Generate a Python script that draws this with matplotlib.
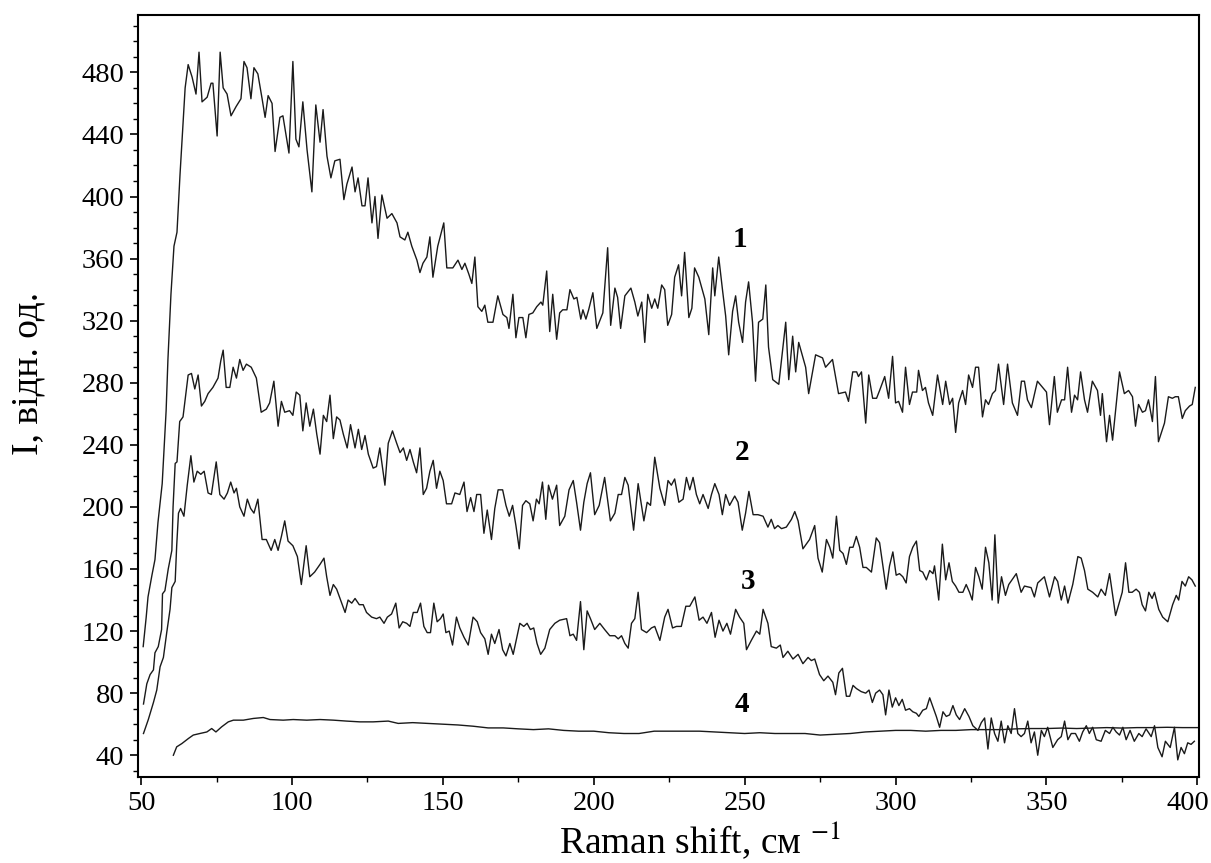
import matplotlib
matplotlib.use("Agg")
import matplotlib.pyplot as plt
from matplotlib.ticker import MultipleLocator
from matplotlib.transforms import ScaledTranslation

plt.rcParams['font.family'] = ['Liberation Serif', 'DejaVu Serif']
plt.rcParams['mathtext.fontset'] = 'stix'

# ---- data, pairs of (Raman shift, intensity) ----
curve1 = [(50.7,110),(51.7,129),(52.3,142),(53.6,156),(54.6,166),(55.6,190),(57.0,215),(58.3,262),(58.9,295),(59.9,337),(60.9,368),(61.9,377),(62.9,414),(63.9,447),(64.6,470),(65.6,485),(66.9,477),(68.2,466),(69.2,493),(70.2,461),(71.9,464),(73.2,473),(73.8,473),(75.2,439),(76.2,493),(77.2,470),(78.5,466),(79.8,452),(81.5,458),(83.1,463),(84.1,487),(85.1,483),(86.4,463),(87.4,483),(88.7,479),(90.1,463),(91.1,451),(92.1,465),(93.4,460),(94.4,429),(96.0,451),(97.0,452),(99.0,428),(100.3,487),(101.3,437),(102.3,432),(103.6,461),(105.0,430),(106.6,403),(107.9,459),(109.3,435),(110.3,456),(111.6,426),(112.9,412),(114.2,423),(115.9,424),(117.2,398),(118.2,408),(119.9,419),(120.9,403),(121.9,412),(123.2,394),(124.2,394),(125.2,412),(126.5,383),(127.5,400),(128.5,373),(129.8,401),(131.5,386),(133.1,389),(134.8,383),(135.8,374),(137.4,372),(138.4,377),(139.7,368),(141.4,359),(142.4,351),(143.4,357),(144.7,361),(145.7,374),(146.7,348),(148.3,368),(150.3,383),(151.3,354),(153.3,354),(155.0,359),(156.3,353),(157.3,357),(158.6,350),(159.6,344),(160.6,361),(161.6,329),(162.9,326),(163.9,330),(164.9,319),(166.6,319),(168.2,336),(169.9,324),(171.2,322),(171.9,315),(173.2,337),(174.2,309),(175.2,322),(176.5,322),(177.5,309),(178.5,324),(179.8,325),(181.1,329),(182.5,332),(183.1,330),(184.4,352),(185.4,313),(186.4,337),(187.7,308),(188.7,325),(189.7,327),(191.1,327),(192.1,340),(193.4,334),(194.4,335),(195.7,321),(196.4,327),(197.4,321),(198.3,327),(199.7,338),(201.0,315),(203.0,325),(204.6,367),(205.6,317),(207.0,341),(207.9,335),(208.9,315),(210.3,336),(212.3,341),(213.6,332),(214.6,323),(215.9,332),(216.9,306),(217.9,337),(219.2,328),(220.2,334),(221.2,328),(222.5,343),(223.5,340),(224.5,317),(225.8,324),(226.8,348),(228.1,356),(229.1,336),(230.1,364),(231.5,322),(232.5,328),(233.4,354),(234.8,348),(235.8,341),(236.8,334),(238.1,311),(239.4,354),(240.1,336),(241.4,361),(242.7,339),(243.7,323),(244.7,298),(246.0,326),(247.0,336),(248.0,319),(249.3,306),(250.3,332),(251.3,345),(252.6,319),(253.6,281),(254.6,319),(256.0,321),(257.0,343),(257.9,303),(259.3,282),(261.3,279),(263.6,319),(264.6,282),(265.9,310),(266.9,287),(267.9,306),(270.2,290),(271.2,273),(273.5,298),(275.8,296),(276.8,290),(279.1,295),(281.1,273),(283.4,274),(284.4,268),(285.8,287),(287.1,287),(287.7,284),(288.7,287),(290.1,254),(291.1,285),(292.4,270),(293.7,270),(294.7,275),(296.4,284),(297.7,270),(299.0,297),(300.0,267),(301.0,268),(302.3,261),(303.3,290),(304.6,266),(305.6,274),(307.0,274),(307.6,288),(308.9,275),(309.9,277),(310.9,267),(312.3,259),(313.9,285),(315.6,266),(316.6,281),(317.9,266),(318.9,270),(319.9,248),(320.9,267),(322.2,275),(323.2,266),(324.2,285),(325.5,277),(326.5,290),(327.5,290),(328.8,258),(329.8,269),(330.8,266),(332.1,273),(333.1,275),(334.1,292),(335.8,266),(337.1,292),(338.7,267),(340.4,259),(341.7,281),(342.7,281),(343.7,269),(345.0,264),(347.0,281),(348.7,277),(350.0,274),(351.0,253),(352.6,284),(353.6,261),(355.0,269),(356.0,269),(357.0,290),(358.3,261),(359.3,272),(360.3,269),(361.3,287),(362.6,269),(363.6,261),(365.2,281),(366.9,275),(367.9,259),(368.5,273),(369.9,242),(370.9,259),(371.9,243),(374.2,287),(375.8,273),(377.2,275),(378.5,271),(379.5,252),(380.5,266),(381.8,261),(382.8,262),(383.8,269),(385.1,255),(386.1,284),(387.1,242),(389.1,254),(390.4,271),(391.7,270),(392.7,271),(393.7,271),(395.0,257),(396.0,262),(397.4,265),(398.3,266),(399.3,277)]

curve2 = [(50.8,73),(51.9,86),(53.0,92),(54.1,95),(54.6,106),(55.7,110),(56.8,121),(57.1,144),(57.9,146),(59.0,160),(60.2,172),(60.6,200),(61.3,228),(61.9,229),(62.8,255),(63.9,258),(65.6,285),(66.7,286),(67.8,276),(68.9,285),(70.0,265),(71.1,268),(72.2,273),(73.8,277),(75.5,283),(76.4,294),(77.2,301),(78.2,277),(79.4,277),(80.5,290),(81.6,283),(82.7,295),(83.8,288),(84.9,292),(86.5,290),(88.2,283),(89.8,261),(91.5,263),(92.6,267),(94.0,281),(95.4,252),(96.5,268),(97.6,261),(99.2,262),(100.3,259),(101.4,274),(102.6,272),(103.6,249),(104.7,267),(105.9,252),(107.1,263),(108.2,247),(109.3,234),(110.4,259),(111.5,255),(112.6,272),(113.7,244),(114.8,258),(115.9,256),(117.0,247),(118.3,238),(119.4,253),(120.9,238),(122.0,250),(123.1,237),(124.2,246),(125.3,234),(126.9,225),(128.0,226),(129.1,238),(130.8,214),(131.9,241),(133.3,249),(134.7,241),(135.8,235),(136.9,238),(138.0,230),(139.1,237),(140.2,229),(141.3,222),(142.4,238),(143.5,208),(144.6,212),(145.7,223),(146.8,230),(147.9,212),(149.0,223),(150.1,217),(151.2,202),(152.9,202),(154.0,209),(155.6,208),(157.0,216),(158.0,197),(159.2,206),(160.3,197),(161.2,208),(162.5,208),(163.6,183),(164.7,198),(166.1,179),(167.2,199),(168.3,211),(169.8,211),(170.9,201),(172.0,194),(173.1,201),(174.2,188),(175.3,173),(176.4,201),(177.5,204),(178.8,202),(179.9,191),(181.0,205),(181.9,202),(183.0,216),(184.1,192),(185.0,214),(186.3,205),(187.7,214),(188.7,188),(190.4,194),(191.8,211),(193.2,217),(194.3,203),(195.6,185),(196.7,203),(197.8,215),(198.9,222),(200.3,195),(201.8,201),(203.6,219),(205.5,191),(207.0,196),(208.1,208),(209.2,208),(210.3,219),(211.4,214),(213.2,185),(214.7,215),(216.6,191),(217.7,203),(218.8,201),(220.2,232),(221.9,212),(223.5,201),(224.6,217),(225.7,214),(226.8,218),(228.2,203),(229.6,205),(230.7,219),(231.8,211),(232.9,219),(234.0,208),(235.1,202),(236.2,208),(237.9,199),(239.0,208),(240.1,215),(241.5,208),(242.6,195),(243.7,208),(245.0,201),(246.7,207),(247.8,203),(249.2,185),(250.3,196),(251.4,210),(252.8,195),(254.4,195),(256.1,194),(257.7,187),(258.8,192),(259.9,186),(261.0,188),(262.2,186),(263.8,187),(265.5,192),(266.6,197),(267.7,191),(269.3,173),(270.4,176),(271.5,179),(273.2,188),(274.3,167),(275.7,158),(277.1,179),(278.2,174),(279.2,167),(280.4,194),(281.5,172),(282.6,170),(283.7,163),(284.8,174),(285.9,174),(287.0,181),(288.1,174),(289.2,161),(290.3,161),(292.0,158),(293.6,180),(294.7,177),(295.8,162),(296.9,147),(298.0,162),(299.1,171),(300.2,156),(301.3,157),(302.4,155),(303.5,151),(304.6,168),(305.7,174),(306.9,178),(308.0,159),(309.0,158),(310.2,153),(311.3,159),(312.4,157),(312.9,162),(314.3,140),(315.5,176),(316.6,153),(317.7,164),(318.8,152),(319.9,149),(321.0,145),(322.3,145),(323.4,150),(324.5,145),(325.4,140),(326.5,161),(327.6,155),(328.7,147),(329.8,174),(330.9,164),(332.0,140),(332.9,182),(334.0,138),(335.1,155),(336.4,143),(337.5,150),(340.0,157),(341.6,145),(342.7,149),(344.9,148),(346.0,142),(347.1,151),(349.3,155),(351.0,142),(352.7,155),(353.7,152),(354.9,140),(356.0,149),(357.1,138),(358.7,150),(360.4,168),(361.5,167),(362.6,159),(363.7,147),(365.3,145),(367.0,142),(368.1,147),(369.5,143),(370.9,157),(372.9,130),(374.2,139),(375.1,145),(376.2,164),(377.3,145),(378.4,145),(379.7,147),(380.8,145),(381.7,137),(382.8,133),(383.9,145),(385.0,141),(385.8,145),(387.2,134),(388.5,129),(390.2,126),(391.8,137),(393.0,143),(393.8,140),(394.9,152),(396.0,149),(397.1,155),(398.2,153),(399.3,149)]

curve3 = [(50.8,54),(52.4,63),(54.1,74),(55.2,82),(56.3,97),(57.4,103),(58.5,119),(59.6,134),(60.2,148),(61.3,152),(61.8,175),(62.4,196),(63.1,199),(64.2,194),(65.3,214),(66.5,233),(67.5,216),(68.6,223),(69.8,221),(70.9,223),(72.2,209),(73.3,208),(74.9,229),(76.1,208),(77.5,205),(78.6,209),(79.7,216),(80.8,209),(81.6,212),(82.7,200),(84.1,194),(85.2,205),(86.3,199),(87.4,196),(88.7,205),(90.1,179),(91.5,179),(93.1,172),(94.3,179),(95.4,172),(96.5,181),(97.6,191),(98.7,178),(100.3,175),(101.8,168),(103.1,150),(104.7,175),(105.9,155),(107.5,158),(109.3,163),(110.6,167),(111.5,155),(112.6,143),(113.7,150),(114.8,147),(116.1,140),(117.6,132),(118.6,140),(119.8,138),(120.9,141),(122.3,137),(123.6,137),(124.7,132),(126.4,129),(128.0,128),(129.1,129),(130.5,125),(131.6,129),(133.0,131),(134.4,138),(135.5,122),(136.7,126),(138.0,125),(139.1,123),(140.2,132),(141.5,132),(142.6,138),(143.7,123),(144.8,119),(145.9,119),(147.0,138),(148.1,126),(149.2,128),(150.1,131),(151.0,119),(152.1,120),(153.2,111),(154.5,129),(155.6,122),(157.0,116),(158.4,111),(160.0,129),(161.4,126),(162.5,119),(163.9,115),(165.0,105),(166.1,118),(167.2,112),(168.6,121),(169.8,108),(170.9,104),(172.2,112),(173.3,105),(174.4,115),(175.5,125),(176.8,123),(177.9,125),(179.0,121),(180.1,122),(181.2,112),(182.4,105),(183.8,109),(185.4,121),(187.1,125),(188.7,127),(191.0,128),(192.1,117),(193.2,118),(194.3,114),(195.6,139),(196.7,108),(197.8,133),(198.9,128),(200.3,121),(202.0,125),(203.6,121),(205.3,117),(207.0,117),(208.1,115),(209.2,117),(210.3,112),(211.4,109),(212.5,125),(213.6,128),(214.7,145),(215.8,121),(217.5,119),(219.1,122),(220.2,123),(221.9,114),(223.5,129),(224.6,134),(226.1,122),(227.4,123),(229.0,123),(230.5,136),(231.8,136),(233.5,142),(234.9,127),(236.2,129),(237.5,125),(239.0,132),(240.2,116),(241.5,127),(242.8,120),(244.1,125),(245.3,118),(247.0,134),(248.3,129),(249.7,125),(250.6,108),(252.2,114),(253.9,120),(255.0,118),(256.1,134),(257.7,125),(258.8,110),(260.5,109),(261.8,111),(262.7,103),(264.3,107),(266.0,102),(267.7,105),(269.3,99),(271.0,103),(272.1,101),(273.2,102),(274.8,92),(276.2,88),(277.6,91),(279.2,87),(280.1,79),(281.2,93),(282.4,96),(283.7,78),(284.8,78),(285.9,85),(287.0,83),(288.6,81),(290.1,80),(291.2,82),(292.3,74),(293.4,80),(294.7,82),(295.8,79),(296.7,66),(297.8,82),(298.9,71),(300.0,77),(301.1,72),(302.2,76),(303.3,69),(304.6,70),(305.7,68),(306.9,67),(307.7,65),(309.0,69),(310.2,70),(311.3,77),(312.4,71),(313.5,65),(314.6,58),(315.7,68),(316.8,65),(317.9,66),(319.0,72),(320.1,66),(321.2,63),(322.9,70),(324.3,65),(325.6,59),(327.3,56),(328.4,61),(329.5,64),(330.6,44),(331.7,64),(332.8,54),(333.9,49),(335.0,62),(336.1,48),(337.2,59),(338.3,54),(339.4,70),(340.5,54),(341.6,52),(342.7,54),(343.8,62),(344.9,48),(346.0,55),(347.1,40),(348.3,56),(349.3,52),(350.4,58),(352.1,45),(353.7,50),(354.9,52),(356.0,62),(357.1,50),(358.2,54),(359.6,54),(360.9,49),(362.0,55),(363.2,59),(364.2,54),(365.3,58),(366.5,50),(368.1,49),(369.5,56),(370.9,54),(372.0,58),(373.1,55),(374.2,53),(375.3,58),(376.4,50),(377.7,56),(379.1,49),(380.6,54),(381.7,52),(383.0,57),(384.7,52),(385.8,59),(386.9,45),(388.3,39),(389.4,49),(391.0,45),(392.4,58),(393.5,37),(394.6,45),(395.7,41),(396.8,48),(397.9,47),(399.0,49)]

curve4 = [(60.7,40),(61.8,45.4),(63.5,47.5),(65.7,50.8),(67.3,53),(69.5,54),(71.8,55),(73.4,57.2),(74.8,55),(76.7,58.3),(78.9,61.5),(80.6,62.6),(83.9,62.6),(87.2,63.7),(90.5,64.3),(92.7,63),(97.1,62.6),(100.4,63),(104.9,62.6),(109.3,63),(113.7,62.6),(118.1,62),(122.5,61.5),(126.9,61.5),(131.9,62),(135.2,60.5),(140,61),(145,60.5),(150,60),(155,59.5),(160,58.7),(165,57.6),(170,57.6),(175,57),(180,56.5),(185,57),(190,56),(195,55.5),(200,55.5),(205,54.5),(210,54),(215,54),(220,55.5),(225,55.5),(230,55.5),(235,55.5),(240,55),(245,54.5),(250,54),(255,54.5),(260,54),(265,54),(270,54),(275,53),(280,53.5),(285,54),(290,55),(295,55.5),(300,56),(305,56),(310,55.5),(315,56),(320,56),(325,56.5),(330,56.5),(335,56.5),(340,57),(345,57.2),(350,57.2),(355,57.5),(360,57.2),(365,57.5),(370,57.8),(375,57.5),(380,57.8),(385,57.8),(390,58),(395,57.8),(400,57.8)]

curve_labels = ["1", "2", "3", "4"]
label_pos = [(248.3, 372), (249.0, 235), (251.0, 152), (249.0, 73)]

x_ticks = [50, 100, 150, 200, 250, 300, 350, 400]
y_ticks = [40, 80, 120, 160, 200, 240, 280, 320, 360, 400, 440, 480]

fig = plt.figure(figsize=(12.11, 8.63), dpi=100)
ax = fig.add_axes([0.114, 0.0997, 0.876, 0.883])

for c in (curve1, curve2, curve3, curve4):
    xs, ys = zip(*c)
    ax.plot(xs, ys, color='#1a1a1a', lw=1.0)

for lab, (lx, ly) in zip(curve_labels, label_pos):
    ax.text(lx, ly, lab, fontsize=21, fontweight='bold', ha='center', va='center')

ax.set_xlim(49, 400.5)
ax.set_ylim(26, 517)
ax.set_xticks(x_ticks)
ax.set_yticks(y_ticks)
ax.xaxis.set_minor_locator(MultipleLocator(25))
ax.yaxis.set_minor_locator(MultipleLocator(10))
ax.tick_params(which='major', direction='out', length=6, width=1.2, labelsize=20.5,
               top=False, right=False, pad=4)
ax.tick_params(which='minor', direction='out', length=3.5, width=1.0, top=False, right=False)
for s in ax.spines.values():
    s.set_linewidth(1.5)
    s.set_color('black')

ax.set_xlabel('Raman shift, см $^{-1}$', fontsize=27)
ax.xaxis.set_label_coords(0.53, -0.057)
ax.set_ylabel('I, відн. од.', fontsize=27)
ax.yaxis.set_label_coords(-0.087, 0.53)

fig.canvas.draw()
last = ax.xaxis.get_major_ticks()[-1].label1
last.set_horizontalalignment('right')
last.set_transform(last.get_transform() + ScaledTranslation(0.12, 0, fig.dpi_scale_trans))

fig.savefig('out.png', dpi=100)
